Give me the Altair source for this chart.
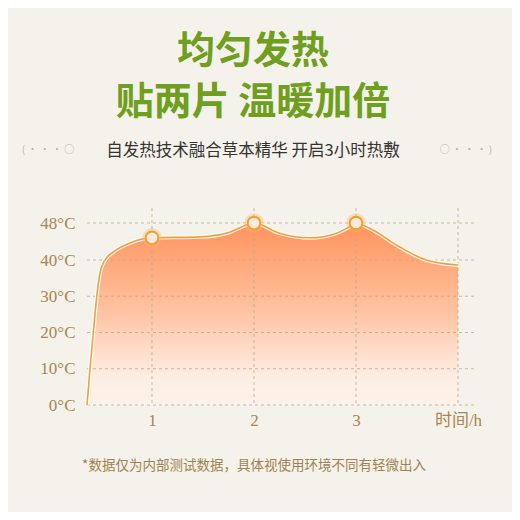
import altair as alt
import pandas as pd

# ---- data ----
times = [0.363, 0.393, 0.425, 0.458, 0.49, 0.539, 0.618, 0.784, 1.0, 1.47, 1.76, 1.93,
         2.0, 2.25, 2.55, 2.81, 2.93, 3.0, 3.13, 3.43, 3.69, 4.0]
temps = [0, 10.2, 20, 29.8, 36.4, 40, 41.7, 43.7, 44.8, 45, 46, 47.6,
         48, 45.8, 44.8, 45.8, 47.1, 48, 46.9, 42.8, 40, 38.6]
peak_times = [1, 2, 3]
peak_temps = [44.8, 48, 48]
y_ticks = [0, 10, 20, 30, 40, 48]
x_ticks = [1, 2, 3, 4]
x_last_label = "时间/h"

title_lines = ["均匀发热", "贴两片 温暖加倍"]
subtitle = ["自发热技术融合草本精华 开启3小时热敷"]
footnote = ["*数据仅为内部测试数据，具体视使用环境不同有轻微出入"]
decor_left = ["(  ·  ·  ·  ○"]
decor_right = ["○  ·  ·  ·  )"]

curve = pd.DataFrame({"t": times, "v": temps})
peaks = pd.DataFrame({"t": peak_times, "v": peak_temps})

W, H = 387, 197
xs = alt.Scale(domain=[0.363, 4.157], nice=False, zero=False)
ys = alt.Scale(domain=[0, 40, 48], range=[H, 52, 15], nice=False)

grid_color = "#bfa98a"
label_color = "#a8864f"

x_axis = alt.Axis(values=x_ticks, title=None, grid=False,
                  domain=False, ticks=False, labelPadding=7,
                  labelExpr=f"datum.value == 4 ? '{x_last_label}' : datum.label",
                  labelFont="Liberation Serif, Noto Sans CJK SC", labelFontSize=17,
                  labelColor=label_color)
y_axis = alt.Axis(values=y_ticks, title=None, grid=False,
                  domain=False, ticks=False, labelPadding=12,
                  labelExpr="datum.value + '°C'",
                  labelFont="Liberation Serif", labelFontSize=17, labelColor=label_color)

grad = alt.Gradient(
    gradient="linear",
    stops=[alt.GradientStop(color="#ff935c", offset=0),
           alt.GradientStop(color="#ffbf9c", offset=0.45),
           alt.GradientStop(color="#fdeee4", offset=0.85),
           alt.GradientStop(color="#fbf2ea", offset=1)],
    x1=1, x2=1, y1=0, y2=1)


def enc():
    return dict(x=alt.X("t:Q", scale=xs, axis=x_axis), y=alt.Y("v:Q", scale=ys, axis=y_axis))


area = alt.Chart(curve).mark_area(interpolate="monotone", color=grad).encode(**enc())

hgrid = alt.Chart(pd.DataFrame({"v": y_ticks})).mark_rule(
    color=grid_color, strokeDash=[3, 3], strokeWidth=1, opacity=0.8).encode(
    y=alt.Y("v:Q", scale=ys, axis=y_axis))
vgrid = alt.Chart(pd.DataFrame({"t": x_ticks})).mark_rule(
    color=grid_color, strokeDash=[3, 3], strokeWidth=1, opacity=0.8).encode(
    x=alt.X("t:Q", scale=xs, axis=x_axis))

halo_line = alt.Chart(curve).mark_line(interpolate="monotone", color="#ffffff",
                                       strokeWidth=4, opacity=0.85).encode(**enc())
line = alt.Chart(curve).mark_line(interpolate="monotone", color="#f3a03c",
                                  strokeWidth=1.6).encode(**enc())
glow = alt.Chart(peaks).mark_point(shape="circle", filled=True, size=380,
                                   color="#ffb56a", opacity=0.35).encode(**enc())
dots = alt.Chart(peaks).mark_point(shape="circle", filled=True, size=160, fill="#fcebdc",
                                   stroke="#eea235", strokeWidth=2, opacity=1).encode(**enc())


def text_layer(lines, x, y, size, color, weight="normal", font="Noto Sans CJK SC",
               align="center"):
    kw = dict(font=font, fontSize=size, color=color, fontWeight=weight,
              align=align, baseline="middle")
    return alt.Chart(pd.DataFrame({"s": lines})).mark_text(**kw).encode(
        x=alt.value(x), y=alt.value(y), text="s:N")


green = "#6e9f1e"
t1 = text_layer([title_lines[0]], 166, -156, 38, green, weight="bold")
t2 = text_layer([title_lines[1]], 166, -105, 38, green, weight="bold")
st = text_layer(subtitle, 166, -57, 16.5, "#333333")
fn = text_layer(footnote, 167, 258, 13.5, "#a0824e")
dl = text_layer(decor_left, -39, -58, 10, "#bdb3a2")
dr = text_layer(decor_right, 379, -58, 10, "#bdb3a2")

chart = alt.layer(area, hgrid, vgrid, halo_line, line, glow, dots,
                  t1, t2, st, fn, dl, dr).properties(
    width=W, height=H,
    autosize=alt.AutoSizeParams(type="none"),
    padding={"left": 79, "top": 200, "right": 38, "bottom": 107},
).configure(background="#f5f2eb").configure_view(stroke=None)

chart.save("out.html", embed_options={"renderer": "svg", "actions": False})
